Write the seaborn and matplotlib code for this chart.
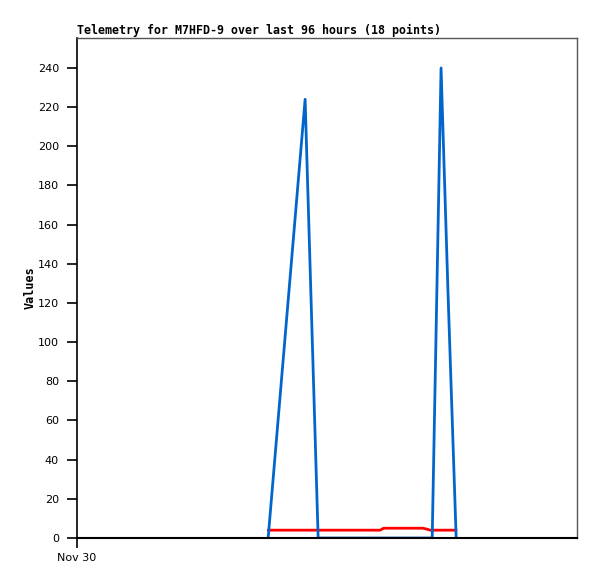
import matplotlib as mpl
mpl.use('Agg')
import matplotlib.pyplot as plt
import seaborn as sns
import pandas as pd

# hours since Nov 30 00:00, 18 samples
hours = [36.7, 43.8, 46.3, 49.5, 52.4, 55.3, 58.2, 58.9, 61.1,
         63.9, 66.4, 67.2, 67.8, 68.2, 69.9, 71.2, 72.0, 72.8]
blue_vals = [0, 224, 0, 0, 0, 0, 0, 0, 0,
             0, 0, 0, 0, 0, 240, 128, 64, 0]
red_vals = [4, 4, 4, 4, 4, 4, 4, 5, 5,
            5, 5, 4.5, 4, 4, 4, 4, 4, 4]
black_vals = [0] * 18

series_names = ['red', 'blue', 'black']
series_colors = {'red': '#ff0000', 'blue': '#0066cc', 'black': '#000000'}

df = pd.concat([
    pd.DataFrame({'hours': hours, 'value': red_vals, 'series': 'red'}),
    pd.DataFrame({'hours': hours, 'value': blue_vals, 'series': 'blue'}),
    pd.DataFrame({'hours': hours, 'value': black_vals, 'series': 'black'}),
])

sns.set_style('white')
fig = plt.figure(figsize=(5.97, 5.79), dpi=100)
ax = fig.add_axes([77/597, 41/579, 500/597, 500/579])

for name in series_names:
    sns.lineplot(data=df[df.series == name], x='hours', y='value', ax=ax,
                 color=series_colors[name], linewidth=2.0, legend=False)

ax.set_xlim(0, 96)
ax.set_ylim(0, 255.3)
ax.set_yticks(range(0, 241, 20))
ax.set_xticks([0])
ax.set_xticklabels(['Nov 30'])
ax.tick_params(axis='both', direction='out', length=7, width=1.2,
               labelsize=8, colors='black', left=True, bottom=True)
ax.tick_params(axis='y', pad=6)
ax.tick_params(axis='x', pad=4)

ax.set_xlabel('')
ax.set_ylabel('Values', family='DejaVu Sans Mono', fontweight='bold',
              fontsize=8.5, color='black', labelpad=1)
ax.set_title('Telemetry for M7HFD-9 over last 96 hours (18 points)', loc='left',
             family='DejaVu Sans Mono', fontweight='bold', fontsize=8.4,
             color='black', pad=3)

ax.spines['left'].set_color('black')
ax.spines['bottom'].set_color('black')
ax.spines['left'].set_linewidth(1.2)
ax.spines['bottom'].set_linewidth(1.5)
ax.spines['top'].set_color('#555555')
ax.spines['right'].set_color('#555555')
ax.spines['top'].set_linewidth(1.0)
ax.spines['right'].set_linewidth(1.0)

fig.savefig('out.png', dpi=100)
